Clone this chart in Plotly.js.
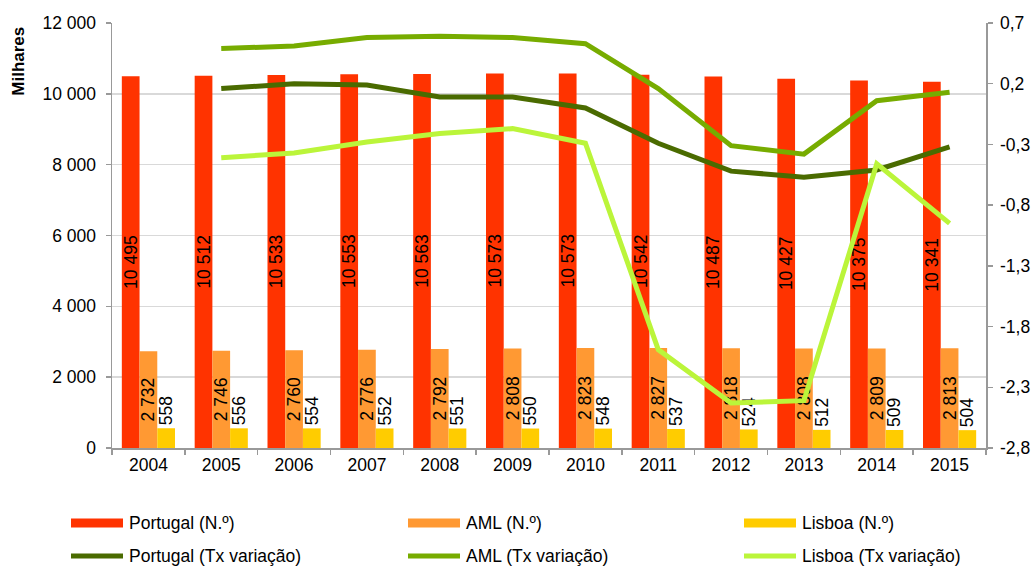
<!DOCTYPE html>
<html>
<head>
<meta charset="utf-8">
<script src="https://cdn.plot.ly/plotly-3.0.1.min.js"></script>
<style>html,body{margin:0;padding:0;background:#fff}#chart{width:1036px;height:566px}</style>
</head>
<body>
<div id="chart"></div>
<script>
// ---- data ----
const years = ['2004','2005','2006','2007','2008','2009','2010','2011','2012','2013','2014','2015'];
const portugalN = [10495,10512,10533,10553,10563,10573,10573,10542,10487,10427,10375,10341];
const amlN = [2732,2746,2760,2776,2792,2808,2823,2827,2818,2808,2809,2813];
const lisboaN = [558,556,554,552,551,550,548,537,524,512,509,504];
const portugalTx = [null,0.16,0.20,0.19,0.09,0.09,0.00,-0.29,-0.52,-0.57,-0.51,-0.32];
const amlTx = [null,0.49,0.51,0.58,0.59,0.58,0.53,0.16,-0.31,-0.38,0.06,0.13];
const lisboaTx = [null,-0.41,-0.37,-0.28,-0.21,-0.17,-0.29,-1.99,-2.43,-2.41,-0.46,-0.95];
const leftTicks = [0,2000,4000,6000,8000,10000,12000];
const rightTicks = [0.7,0.2,-0.3,-0.8,-1.3,-1.8,-2.3,-2.8];
const rightTickText = ['0,7','0,2','-0,3','-0,8','-1,3','-1,8','-2,3','-2,8'];
const names = ['Portugal (N.º)','AML (N.º)','Lisboa (N.º)','Portugal (Tx variação)','AML (Tx variação)','Lisboa (Tx variação)'];

const FONT = 'Liberation Sans, Arial, sans-serif';
const FS = 17.5;
const colors = ['#FF3300','#FF9933','#FFCC00','#4A6B00','#77AC00','#BBF53A'];

// plot-area geometry (pixels) used to place the legend
const W = 1036, H = 566, ML = 112, MR = 50, MT = 23, MB = 118;
const PW = W - ML - MR, PH = H - MT - MB;
const px = v => (v - ML) / PW;
const py = v => (H - MB - v) / PH;

function barTrace(vals, i, pos){
  return {
    type:'bar', x:years, y:vals, name:names[i], showlegend:false,
    marker:{color:colors[i], line:{width:0}},
    texttemplate:'%{y:,}', textposition:pos, insidetextanchor:'middle',
    textangle:-90, constraintext:'none', cliponaxis:false,
    textfont:{family:FONT, size:FS, color:'#000'},
    insidetextfont:{family:FONT, size:FS, color:'#000'},
    outsidetextfont:{family:FONT, size:FS, color:'#000'},
    hoverinfo:'skip'
  };
}
function lineTrace(vals, i){
  return {
    type:'scatter', mode:'lines', x:years, y:vals, name:names[i], yaxis:'y2', showlegend:false,
    line:{color:colors[i], width:5}, connectgaps:false, hoverinfo:'skip'
  };
}

const data = [
  barTrace(portugalN,0,'inside'),
  barTrace(amlN,1,'inside'),
  barTrace(lisboaN,2,'outside'),
  lineTrace(portugalTx,3),
  lineTrace(amlTx,4),
  lineTrace(lisboaTx,5)
];

// custom legend: 3 columns x 2 rows, built from names/colors
const colX = [71, 408, 744];
const rowY = [523, 556];
const shapes = [], annotations = [];
names.forEach((n, i) => {
  const c = i % 3, r = Math.floor(i / 3);
  const x0 = colX[c];
  shapes.push({type:'line', xref:'paper', yref:'paper', x0:px(x0), x1:px(x0 + 52), y0:py(rowY[r]), y1:py(rowY[r]),
               line:{color:colors[i], width: r === 0 ? 9 : 5}});
  annotations.push({text:n, xref:'paper', yref:'paper', x:px(x0 + 56), y:py(rowY[r]), xanchor:'left', yanchor:'middle',
                    showarrow:false, font:{family:FONT, size:FS, color:'#000'}});
});
annotations.push({text:'<b>Milhares</b>', xref:'paper', yref:'paper', x:-0.107, y:0.91, xanchor:'center', yanchor:'middle',
                  textangle:-90, showarrow:false, font:{family:FONT, size:17, color:'#000'}});

const layout = {
  width:W, height:H,
  margin:{l:ML, r:MR, t:MT, b:MB, pad:0},
  paper_bgcolor:'#fff', plot_bgcolor:'#fff',
  separators:', ',
  font:{family:FONT, size:FS, color:'#000'},
  barmode:'group', bargap:0.27, bargroupgap:0,
  showlegend:false,
  xaxis:{type:'category', tickson:'boundaries', ticks:'outside', ticklen:5, tickcolor:'#999', tickwidth:1.5,
         showline:true, linecolor:'#999', linewidth:1.5, showgrid:false, tickfont:{family:FONT,size:FS,color:'#000'}},
  yaxis:{range:[0,12000], tickvals:leftTicks, tickformat:',d', ticks:'outside', ticklen:5, tickcolor:'#999', tickwidth:1.5,
         showline:true, linecolor:'#999', linewidth:1.5, showgrid:true, gridcolor:'#d9d9d9', gridwidth:1.5,
         zeroline:false, ticklabelstandoff:6, tickfont:{family:FONT,size:FS,color:'#000'}},
  yaxis2:{overlaying:'y', side:'right', range:[-2.8,0.7], tickvals:rightTicks, ticktext:rightTickText,
          ticks:'outside', ticklen:5, tickcolor:'#999', tickwidth:1.5, showline:true, linecolor:'#999', linewidth:1.5,
          showgrid:false, zeroline:false, ticklabelstandoff:4, tickfont:{family:FONT,size:FS,color:'#000'}},
  shapes:shapes,
  annotations:annotations
};

Plotly.newPlot('chart', data, layout, {displayModeBar:false, staticPlot:true});
</script>
</body>
</html>
